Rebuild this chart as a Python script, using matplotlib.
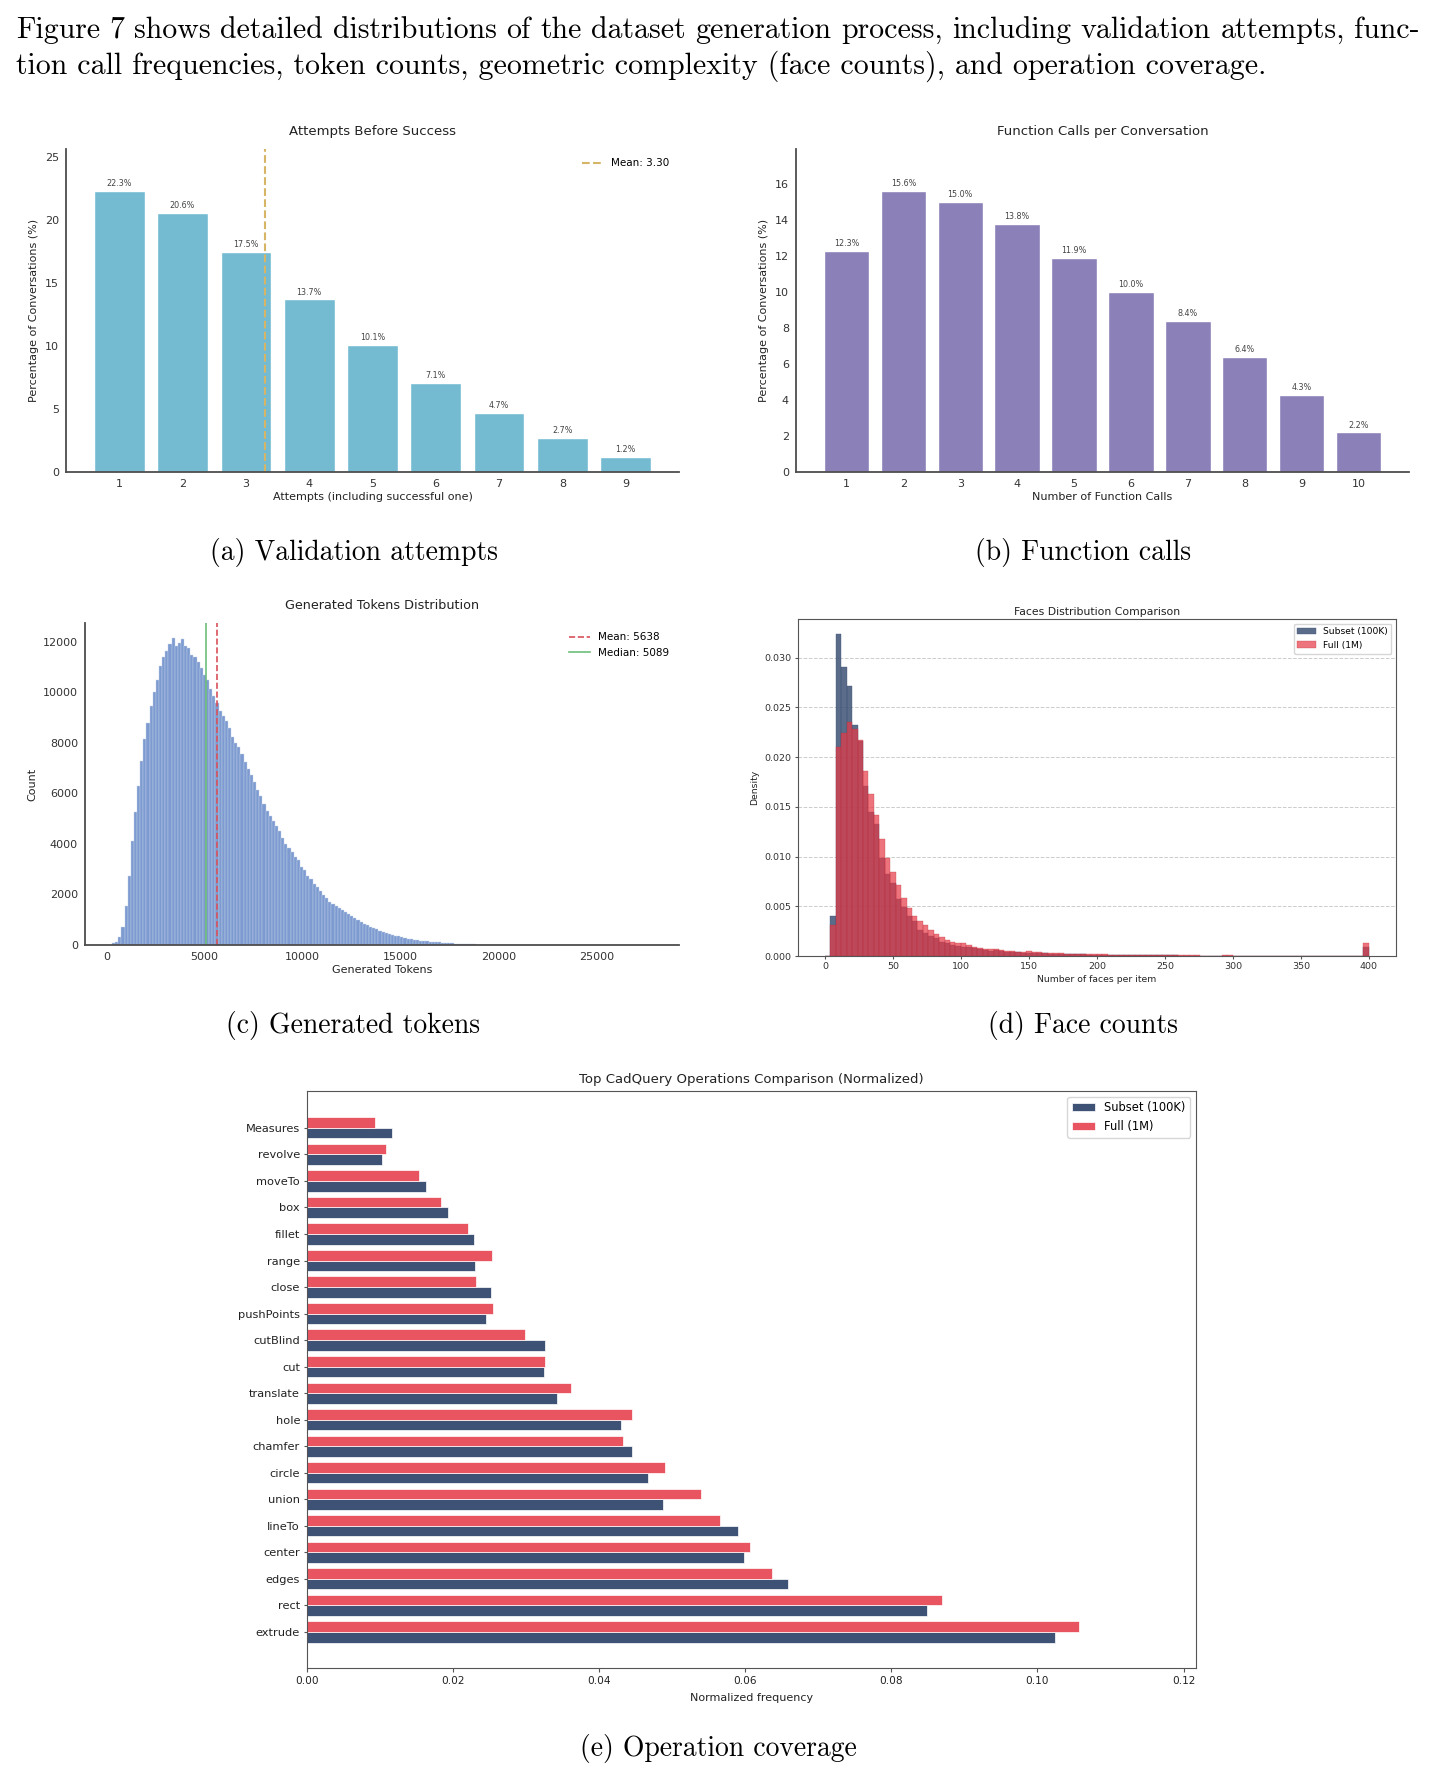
import numpy as np
import matplotlib
matplotlib.use("Agg")
import matplotlib.pyplot as plt

# (a) validation attempts
attempts = [1, 2, 3, 4, 5, 6, 7, 8, 9]
attempt_pct = [22.3, 20.6, 17.5, 13.7, 10.1, 7.1, 4.7, 2.7, 1.2]
attempt_mean = 3.30

# (b) function calls
calls = [1, 2, 3, 4, 5, 6, 7, 8, 9, 10]
call_pct = [12.3, 15.6, 15.0, 13.8, 11.9, 10.0, 8.4, 6.4, 4.3, 2.2]

# (c) generated tokens histogram (bar heights)
token_bin_start = 276
token_bin_width = 160
token_counts = [60, 120, 300, 730, 1550, 2750, 4100, 5250, 6300, 7300,
                8150, 8800, 9450, 10000, 10500, 11050, 11400, 11650, 11900, 12150,
                11850, 11950, 12100, 11850, 11750, 11500, 11400, 11200, 10950, 10700,
                10500, 10150, 9850, 9600, 9250, 9050, 8850, 8600, 8250, 8000,
                7850, 7550, 7250, 6950, 6750, 6450, 6150, 5900, 5600, 5300,
                5100, 4900, 4700, 4500, 4250, 4000, 3850, 3700, 3500, 3350,
                3100, 2950, 2750, 2600, 2420, 2280, 2130, 1980, 1850, 1720,
                1620, 1530, 1460, 1400, 1300, 1220, 1130, 1060, 990, 910,
                840, 780, 720, 670, 620, 560, 505, 465, 430, 400,
                375, 340, 305, 280, 250, 230, 210, 195, 175, 158,
                145, 132, 120, 110, 100, 90, 82, 74, 66, 58,
                50, 44, 38, 32, 27, 22, 18, 15, 12, 10,
                8, 7, 6, 5, 4, 3, 3, 2, 2, 1]
token_mean = 5638
token_median = 5089

# (d) faces per item, density per bin of width 4 from 0 to 400
face_bin_width = 4
face_subset = [0, 0.0040, 0.0324, 0.0291, 0.0272, 0.0232, 0.0216, 0.0171, 0.0145, 0.0133,
               0.0099, 0.0082, 0.0073, 0.0057, 0.0049, 0.0040, 0.0035, 0.0026, 0.0023, 0.0020,
               0.0018, 0.0014, 0.0013, 0.0011, 0.0010, 0.00094, 0.00094, 0.00080, 0.00066, 0.00060,
               0.00055, 0.00058, 0.00048, 0.00042, 0.00038, 0.00036, 0.00033, 0.00035, 0.00030, 0.00028,
               0.00026, 0.00025, 0.00023, 0.00021, 0.00020, 0.00018, 0.00017, 0.00016, 0.00015, 0.00014,
               0.00015, 0.00013, 0.00012, 0.00011, 0.00010, 0.00010, 0.00009, 0.00009, 0.00008, 0.00008,
               0.00007, 0.00009, 0.00008, 0.00006, 0.00006, 0.00005, 0.00005, 0.00005, 0.00005, 0.00004,
               0.00004, 0.00004, 0.00004, 0.00005, 0.00004, 0.00004, 0.00003, 0.00003, 0.00003, 0.00003,
               0.00003, 0.00003, 0.00002, 0.00002, 0.00002, 0.00002, 0.00002, 0.00002, 0.00002, 0.00002,
               0.00002, 0.00002, 0.00002, 0.00002, 0.00001, 0.00001, 0.00001, 0.00001, 0.00001, 0.00090]
face_full = [0, 0.0031, 0.0210, 0.0224, 0.0235, 0.0228, 0.0217, 0.0186, 0.0163, 0.0142,
             0.0118, 0.0099, 0.0085, 0.0071, 0.0058, 0.0048, 0.0040, 0.0035, 0.0031, 0.0026,
             0.0022, 0.0019, 0.0016, 0.0014, 0.0013, 0.0013, 0.0011, 0.00094, 0.00080, 0.00070,
             0.00068, 0.00074, 0.00060, 0.00052, 0.00046, 0.00044, 0.00042, 0.00048, 0.00040, 0.00036,
             0.00033, 0.00031, 0.00029, 0.00027, 0.00025, 0.00023, 0.00021, 0.00020, 0.00019, 0.00018,
             0.00019, 0.00016, 0.00015, 0.00014, 0.00013, 0.00012, 0.00011, 0.00011, 0.00010, 0.00010,
             0.00009, 0.00012, 0.00011, 0.00008, 0.00007, 0.00007, 0.00006, 0.00006, 0.00006, 0.00005,
             0.00005, 0.00005, 0.00005, 0.00006, 0.00006, 0.00005, 0.00004, 0.00004, 0.00004, 0.00004,
             0.00004, 0.00004, 0.00003, 0.00003, 0.00003, 0.00003, 0.00003, 0.00003, 0.00003, 0.00003,
             0.00003, 0.00003, 0.00002, 0.00002, 0.00002, 0.00002, 0.00002, 0.00002, 0.00002, 0.00130]

# (e) operation coverage, bottom to top
ops = ["extrude", "rect", "edges", "center", "lineTo", "union", "circle", "chamfer",
       "hole", "translate", "cut", "cutBlind", "pushPoints", "close", "range",
       "fillet", "box", "moveTo", "revolve", "Measures"]
ops_subset = [0.1024, 0.0849, 0.0658, 0.0598, 0.0590, 0.0487, 0.0467, 0.0445,
              0.0430, 0.0342, 0.0325, 0.0326, 0.0245, 0.0252, 0.0230,
              0.0229, 0.0193, 0.0163, 0.0103, 0.0116]
ops_full = [0.1057, 0.0869, 0.0637, 0.0606, 0.0565, 0.0540, 0.0490, 0.0432,
            0.0445, 0.0362, 0.0326, 0.0299, 0.0255, 0.0232, 0.0253,
            0.0220, 0.0183, 0.0153, 0.0108, 0.0093]

body1 = ("Figure 7 shows detailed distributions of the dataset generation process, "
         "including validation attempts, func-")
body2 = ("tion call frequencies, token counts, geometric complexity (face counts), "
         "and operation coverage.")

W, H = 1436, 1782
fig = plt.figure(figsize=(W / 100, H / 100), dpi=100)
serif = dict(family=["cmr10", "DejaVu Serif"], fontsize=19.9, color="black")
body_font = dict(family=["cmr10", "DejaVu Serif"], fontsize=21.5, color="black")


def px_axes(x0, y0, x1, y1):
    return fig.add_axes([x0 / W, 1 - y1 / H, (x1 - x0) / W, (y1 - y0) / H])


def sns_like(ax):
    for s in ["top", "right"]:
        ax.spines[s].set_visible(False)
    for s in ["left", "bottom"]:
        ax.spines[s].set_color("#4d4d4d")
        ax.spines[s].set_linewidth(1.3)
    ax.tick_params(length=0, pad=5, labelsize=8, labelcolor="#333333")


# ---- (a)
ax = px_axes(66, 149, 679, 472)
ax.bar(attempts, attempt_pct, width=0.8, color="#74bbd2", edgecolor="white", linewidth=1)
for x, v in zip(attempts, attempt_pct):
    ax.annotate(f"{v:.1f}%", (x, v), xytext=(0, 2), textcoords="offset points",
                ha="center", va="bottom", fontsize=5.8, color="#444444")
ax.axvline(attempt_mean, color="#d6b566", linestyle="--", linewidth=1.5,
           label=f"Mean: {attempt_mean:.2f}")
ax.set_ylim(0, max(attempt_pct) * 1.15)
ax.set_xticks(attempts)
ax.set_yticks([0, 5, 10, 15, 20, 25])
sns_like(ax)
ax.set_title("Attempts Before Success", fontsize=9.5, pad=10, color="#222222")
ax.set_xlabel("Attempts (including successful one)", fontsize=8, labelpad=2, color="#222222")
ax.set_ylabel("Percentage of Conversations (%)", fontsize=8, color="#222222")
ax.legend(frameon=False, fontsize=7.5, loc="upper right")

# ---- (b)
ax = px_axes(796, 149, 1409, 472)
ax.bar(calls, call_pct, width=0.8, color="#8c80b9", edgecolor="white", linewidth=1)
for x, v in zip(calls, call_pct):
    ax.annotate(f"{v:.1f}%", (x, v), xytext=(0, 2), textcoords="offset points",
                ha="center", va="bottom", fontsize=5.8, color="#444444")
ax.set_ylim(0, max(call_pct) * 1.15)
ax.set_xticks(calls)
ax.set_yticks([0, 2, 4, 6, 8, 10, 12, 14, 16])
sns_like(ax)
ax.set_title("Function Calls per Conversation", fontsize=9.5, pad=10, color="#222222")
ax.set_xlabel("Number of Function Calls", fontsize=8, labelpad=2, color="#222222")
ax.set_ylabel("Percentage of Conversations (%)", fontsize=8, color="#222222")

# ---- (c)
ax = px_axes(85, 623, 679, 945)
lefts = token_bin_start + token_bin_width * np.arange(len(token_counts))
ax.bar(lefts, token_counts, width=token_bin_width, align="edge", color="#7d9bd0",
       edgecolor="#c4d2ea", linewidth=0.3)
ax.axvline(token_mean, color="#d9505a", linestyle="--", linewidth=1.2, label=f"Mean: {token_mean}")
ax.axvline(token_median, color="#6dbd7a", linestyle="-", linewidth=1.2, label=f"Median: {token_median}")
ax.set_xlim(-1103, 29225)
ax.set_ylim(0, 12750)
ax.set_xticks([0, 5000, 10000, 15000, 20000, 25000])
ax.set_yticks([0, 2000, 4000, 6000, 8000, 10000, 12000])
sns_like(ax)
ax.set_title("Generated Tokens Distribution", fontsize=9.2, pad=10, color="#222222")
ax.set_xlabel("Generated Tokens", fontsize=8, labelpad=2, color="#222222")
ax.set_ylabel("Count", fontsize=8, color="#222222")
ax.legend(frameon=False, fontsize=7.5, loc="upper right")

# ---- (d)
ax = px_axes(798, 619, 1396, 956)
face_lefts = face_bin_width * np.arange(len(face_subset))
ax.bar(face_lefts, face_subset, width=face_bin_width, align="edge", color="#3d5275",
       alpha=0.85, edgecolor="#3d5275", linewidth=0.3, label="Subset (100K)")
ax.bar(face_lefts, face_full, width=face_bin_width, align="edge", color="#e63946",
       alpha=0.7, edgecolor="#c0303c", linewidth=0.3, label="Full (1M)")
ax.set_xlim(-19.8, 420)
ax.set_ylim(0, 0.0339)
ax.set_xticks(np.arange(0, 401, 50))
ax.set_yticks([0, 0.005, 0.01, 0.015, 0.02, 0.025, 0.03])
ax.yaxis.grid(True, linestyle="--", color="#cccccc", linewidth=0.7)
ax.set_axisbelow(True)
for s in ax.spines.values():
    s.set_color("#555555")
ax.tick_params(labelsize=6.8, length=2.5, pad=2, color="#555555", labelcolor="#333333")
ax.set_title("Faces Distribution Comparison", fontsize=7.8, pad=3, color="#222222")
ax.set_xlabel("Number of faces per item", fontsize=6.7, labelpad=3, color="#222222")
ax.set_ylabel("Density", fontsize=6.7, color="#222222")
ax.legend(fontsize=6.6, loc="upper right")

# ---- (e)
ax = px_axes(307, 1091, 1196, 1668)
ypos = np.arange(len(ops))
ax.barh(ypos - 0.2, ops_subset, height=0.4, color="#3d5275", edgecolor="white",
        linewidth=0.5, label="Subset (100K)")
ax.barh(ypos + 0.2, ops_full, height=0.4, color="#e85561", edgecolor="white",
        linewidth=0.5, label="Full (1M)")
ax.set_yticks(ypos)
ax.set_yticklabels(ops)
ax.set_ylim(-1.36, 20.39)
ax.set_xlim(0, 0.1217)
ax.set_xticks([0, 0.02, 0.04, 0.06, 0.08, 0.10, 0.12])
for s in ax.spines.values():
    s.set_color("#555555")
ax.tick_params(axis="y", labelsize=8.2, length=2.5, pad=2.5, color="#555555", labelcolor="#222222")
ax.tick_params(axis="x", labelsize=7.6, length=3, pad=3, color="#555555", labelcolor="#222222")
ax.set_title("Top CadQuery Operations Comparison (Normalized)", fontsize=9.5, pad=6, color="#222222")
ax.set_xlabel("Normalized frequency", fontsize=8, labelpad=5, color="#222222")
ax.legend(fontsize=8.3, loc="upper right")

# ---- captions
fig.text(354 / W, 1 - 552 / H, "(a) Validation attempts", ha="center", va="center", **serif)
fig.text(1083 / W, 1 - 552 / H, "(b) Function calls", ha="center", va="center", **serif)
fig.text(353 / W, 1 - 1025 / H, "(c) Generated tokens", ha="center", va="center", **serif)
fig.text(1083 / W, 1 - 1025 / H, "(d) Face counts", ha="center", va="center", **serif)
fig.text(718 / W, 1 - 1748 / H, "(e) Operation coverage", ha="center", va="center", **serif)

# ---- body text, first line justified
renderer = fig.canvas.get_renderer()
words = body1.split()
items = [fig.text(0, 1 - 30 / H, w, ha="left", va="center", **body_font) for w in words]
widths = [t.get_window_extent(renderer).width for t in items]
x0, x1 = 16, 1420
gap = (x1 - x0 - sum(widths)) / (len(words) - 1)
x = x0
for t, w in zip(items, widths):
    t.set_x(x / W)
    x += w + gap
fig.text(16 / W, 1 - 66 / H, body2, ha="left", va="center", **body_font)

fig.savefig("out.png", dpi=100)
